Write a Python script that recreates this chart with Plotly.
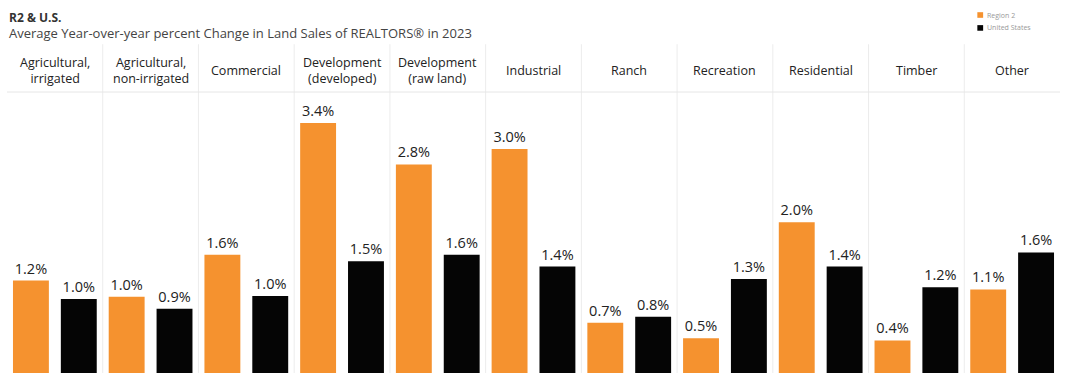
import plotly.graph_objects as go

categories = ["Agricultural,<br>irrigated", "Agricultural,<br>non-irrigated", "Commercial",
              "Development<br>(developed)", "Development<br>(raw land)", "Industrial", "Ranch",
              "Recreation", "Residential", "Timber", "Other"]
region2 = [1.25, 1.03, 1.60, 3.38, 2.82, 3.03, 0.68, 0.47, 2.04, 0.44, 1.13]
united_states = [1.00, 0.87, 1.04, 1.51, 1.60, 1.44, 0.76, 1.27, 1.44, 1.16, 1.63]
series_names = ["Region 2", "United States"]
colors = ["#F5922F", "#050505"]

FONT = "Open Sans"
x_idx = list(range(len(categories)))

fig = go.Figure()
for name, vals, col in zip(series_names, [region2, united_states], colors):
    fig.add_trace(go.Bar(
        x=x_idx, y=vals, name=name, marker=dict(color=col, line=dict(width=0)),
        text=[f"{v:.1f}%" for v in vals], textposition="outside",
        textfont=dict(family=FONT, size=14.5, color="#222222"),
        constraintext="none", cliponaxis=False, showlegend=False,
    ))

shapes = []
for i in range(len(categories) - 1):
    shapes.append(dict(type="line", xref="x", yref="paper", x0=i + 0.5, x1=i + 0.5,
                       y0=0, y1=1.17, line=dict(color="#ececec", width=1)))
shapes.append(dict(type="line", xref="paper", yref="paper", x0=0, x1=1, y0=1, y1=1,
                   line=dict(color="#e6e6e6", width=1)))
# legend swatches
for k, col in enumerate(colors):
    shapes.append(dict(type="rect", xref="paper", yref="paper",
                       x0=0.9215, x1=0.927, y0=1.284 - k * 0.046, y1=1.264 - k * 0.046,
                       fillcolor=col, line=dict(width=0)))

annotations = []
for i, c in enumerate(categories):
    annotations.append(dict(x=i, y=1, xref="x", yref="paper", text=c, showarrow=False,
                            yanchor="middle", yshift=22, align="center",
                            font=dict(family=FONT, size=12.5, color="#222222")))
for k, name in enumerate(series_names):
    annotations.append(dict(x=0.929, y=1.274 - k * 0.046, xref="paper", yref="paper", text=name,
                            showarrow=False, xanchor="left", yanchor="middle",
                            font=dict(family=FONT, size=7, color="#999999")))
annotations.append(dict(x=0, y=1, xref="paper", yref="paper", text="<b>R2 &amp; U.S.</b>",
                        showarrow=False, xanchor="left", yanchor="middle", xshift=0, yshift=75,
                        font=dict(family=FONT, size=12, color="#333333")))
annotations.append(dict(x=0, y=1, xref="paper", yref="paper",
                        text="Average Year-over-year percent Change in Land Sales of REALTORS® in 2023",
                        showarrow=False, xanchor="left", yanchor="middle", xshift=0, yshift=59,
                        font=dict(family=FONT, size=13, color="#444444")))

fig.update_layout(
    width=1068, height=382,
    margin=dict(l=7, r=8, t=92, b=9),
    paper_bgcolor="white", plot_bgcolor="white",
    barmode="group", bargap=0.0, bargroupgap=0.25,
    xaxis=dict(range=[-0.5, len(categories) - 0.5], showticklabels=False, showgrid=False,
               zeroline=False, showline=False, ticks=""),
    yaxis=dict(range=[0, 3.8], visible=False, showgrid=False, zeroline=False),
    shapes=shapes, annotations=annotations,
    font=dict(family=FONT),
)
fig.write_html("out.html", config={"displayModeBar": False},
               post_script="document.body.style.margin='0';document.body.style.overflow='hidden';")
